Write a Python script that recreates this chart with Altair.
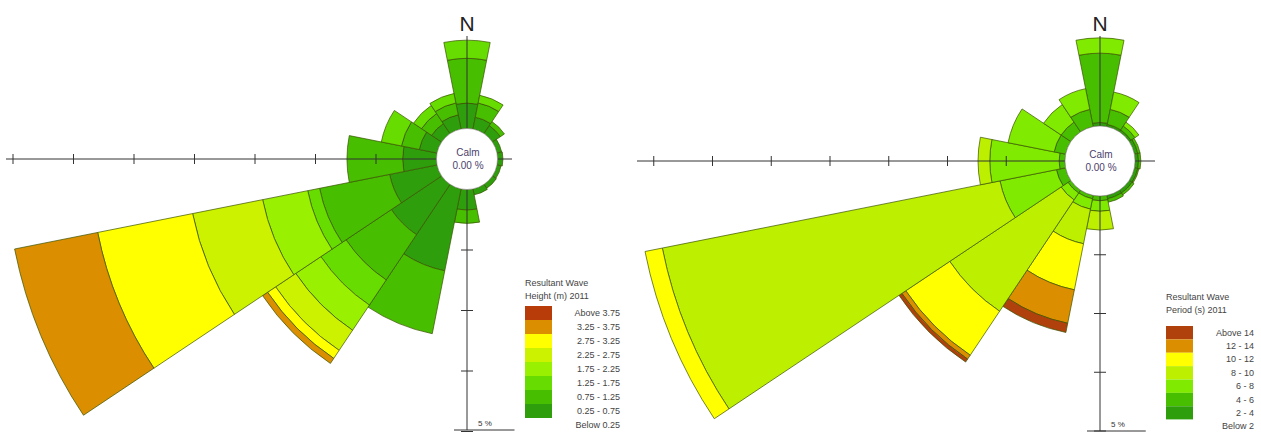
import math
import altair as alt
import pandas as pd

# ---------------- data ----------------
DIRECTIONS = ["N", "NNE", "NE", "ENE", "E", "ESE", "SE", "SSE",
              "S", "SSW", "SW", "WSW", "W", "WNW", "NW", "NNW"]
BEARINGS = [0, 22.5, 45, 67.5, 90, 112.5, 135, 157.5,
            180, 202.5, 225, 247.5, 270, 292.5, 315, 337.5]
SECTOR_WIDTH = 22.5

# Resultant wave height (m) 2011 -- % of time per band and direction
HEIGHT_BANDS = ["Below 0.25", "0.25 - 0.75", "0.75 - 1.25", "1.25 - 1.75", "1.75 - 2.25",
                "2.25 - 2.75", "2.75 - 3.25", "3.25 - 3.75", "Above 3.75"]
H_BELOW_025 = [0, 0, 0, 0, 0, 0, 0, 0, 0, 0, 0, 0, 0, 0, 0, 0]
H_025_075 = [2.1, 1.0, 0.8, 0.4, 0.45, 0.35, 0.4, 0.5, 1.7, 6.9, 5.0, 4.0, 2.8, 1.5, 1.0, 1.2]
H_075_125 = [3.7, 1.2, 0.4, 0, 0, 0, 0, 0, 1.1, 5.3, 4.5, 5.9, 4.6, 1.5, 1.0, 1.0]
H_125_175 = [1.5, 0.65, 0, 0, 0, 0, 0, 0, 0, 0, 2.5, 1.0, 0, 1.7, 0.8, 0.8]
H_175_225 = [0, 0, 0, 0, 0, 0, 0, 0, 0, 0, 2.5, 3.8, 0, 0, 0, 0]
H_225_275 = [0, 0, 0, 0, 0, 0, 0, 0, 0, 0, 2.0, 5.9, 0, 0, 0, 0]
H_275_325 = [0, 0, 0, 0, 0, 0, 0, 0, 0, 0, 0.8, 8.0, 0, 0, 0, 0]
H_325_375 = [0, 0, 0, 0, 0, 0, 0, 0, 0, 0, 0.5, 7.0, 0, 0, 0, 0]
H_ABOVE_375 = [0, 0, 0, 0, 0, 0, 0, 0, 0, 0, 0, 0, 0, 0, 0, 0]

# Resultant wave period (s) 2011 -- % of time per band and direction
PERIOD_BANDS = ["Below 2", "2 - 4", "4 - 6", "6 - 8", "8 - 10", "10 - 12", "12 - 14", "Above 14"]
P_BELOW_2 = [0, 0, 0, 0, 0, 0, 0, 0, 0, 0, 0, 0, 0, 0, 0, 0]
P_2_4 = [0.3, 0.2, 0.2, 0.3, 0.3, 0.3, 0.3, 0.3, 0, 0, 0, 0, 0, 0, 0, 0]
P_4_6 = [5.9, 1.3, 0.4, 0.2, 0.2, 0.1, 0.2, 0.3, 0.4, 0.3, 0.3, 0.8, 0.5, 1.0, 1.0, 1.5]
P_6_8 = [1.3, 1.5, 0.4, 0, 0, 0, 0, 0, 0.9, 0.9, 0.7, 4.9, 5.9, 4.0, 1.8, 1.8]
P_8_10 = [0, 0, 0, 0, 0, 0, 0, 0, 1.6, 3.0, 11.4, 29.3, 1.0, 0, 0, 0]
P_10_12 = [0, 0, 0, 0, 0, 0, 0, 0, 0, 4.0, 4.5, 1.5, 0, 0, 0, 0]
P_12_14 = [0, 0, 0, 0, 0, 0, 0, 0, 0, 2.9, 0.4, 0, 0, 0, 0, 0]
P_ABOVE_14 = [0, 0, 0, 0, 0, 0, 0, 0, 0, 0.8, 0.3, 0, 0, 0, 0, 0]

RING_TICKS_W = [5, 10, 15, 20, 25, 30, 35]
RING_TICKS_S = [5, 10, 15, 20]
CALM_LINES = ["Calm", "0.00 %"]
SCALE_BAR = 5

# ---------------- styles ----------------
HEIGHT_COLORS = ["#FFFFFF", "#2E9E0C", "#47BE00", "#66DC00", "#99F000",
                 "#CCF200", "#FFFF00", "#DB8E00", "#B83C0A"]
PERIOD_COLORS = ["#FFFFFF", "#2E9E0C", "#47BE00", "#80EA00", "#BDF000",
                 "#FFFF00", "#DB8E00", "#B0400C"]
FONT = "Liberation Sans"
OUTLINE = "#3A5200"


def segments(bands, values):
    rows = []
    for i, d in enumerate(DIRECTIONS):
        cum = 0.0
        t0 = (BEARINGS[i] - SECTOR_WIDTH / 2) % 360
        for name, vals in zip(bands, values):
            v = vals[i]
            if v > 0:
                rows.append(dict(direction=d, band=name, t0=t0, t1=t0 + SECTOR_WIDTH,
                                 r0=cum, r1=cum + v))
                cum += v
    return pd.DataFrame(rows)


def rose(df, bands, colors, cx, cy, calm, ppp, ax_left, ax_right, ax_top, ax_bottom,
         leg_x, leg_top, leg_bottom, label_x, title_lines, title_y):
    rmax = 40
    tscale = alt.Scale(domain=[0, 360], range=[0, 2 * math.pi])
    rscale = alt.Scale(type="linear", domain=[0, rmax], range=[calm, calm + rmax * ppp], zero=False)
    cscale = alt.Scale(domain=bands, range=colors)
    layers = []

    layers.append(alt.Chart(df).mark_arc(stroke=OUTLINE, strokeWidth=0.7).encode(
        theta=alt.Theta("t0:Q", scale=tscale, stack=False),
        theta2=alt.Theta2("t1:Q"),
        radius=alt.Radius("r0:Q", scale=rscale, stack=False),
        radius2=alt.Radius2("r1:Q"),
        color=alt.Color("band:N", scale=cscale, legend=None),
        x=alt.value(cx), y=alt.value(cy),
    ))

    one = pd.DataFrame({"a": [0]})
    # cross axes
    layers.append(alt.Chart(one).mark_rule(color="#333333", strokeWidth=1).encode(
        x=alt.value(ax_left), x2=alt.value(ax_right), y=alt.value(cy)))
    layers.append(alt.Chart(one).mark_rule(color="#333333", strokeWidth=1).encode(
        y=alt.value(ax_top), y2=alt.value(ax_bottom), x=alt.value(cx)))

    # ring ticks on the west and south arms
    tw = pd.DataFrame({"v": RING_TICKS_W})
    layers.append(alt.Chart(tw).mark_rule(color="#333333", strokeWidth=1).encode(
        x=alt.X("v:Q", scale=alt.Scale(domain=[0, rmax], range=[cx - calm, cx - calm - rmax * ppp]), axis=None),
        y=alt.value(cy - 5), y2=alt.value(cy + 5)))
    ts = pd.DataFrame({"v": RING_TICKS_S})
    layers.append(alt.Chart(ts).mark_rule(color="#333333", strokeWidth=1).encode(
        y=alt.Y("v:Q", scale=alt.Scale(domain=[0, rmax], range=[cy + calm, cy + calm + rmax * ppp]), axis=None),
        x=alt.value(cx - 6), x2=alt.value(cx + 6)))

    # calm circle
    layers.append(alt.Chart(one).mark_arc(radius=calm, theta=0, theta2=2 * math.pi, fill="white",
                                           stroke="#8a8a8a", strokeWidth=0.6).encode(
        x=alt.value(cx), y=alt.value(cy)))
    layers.append(alt.Chart(one).mark_text(fontSize=10, font=FONT, color="#4B416B").encode(
        x=alt.value(cx + 1), y=alt.value(cy - 6), text=alt.value(CALM_LINES[0])))
    layers.append(alt.Chart(one).mark_text(fontSize=10, font=FONT, color="#4B416B").encode(
        x=alt.value(cx + 1), y=alt.value(cy + 7), text=alt.value(CALM_LINES[1])))

    # north label
    layers.append(alt.Chart(one).mark_text(fontSize=21, font=FONT, color="#222222",
                                           baseline="alphabetic").encode(
        x=alt.value(cx), y=alt.value(31), text=alt.value("N")))

    # scale bar
    sb = pd.DataFrame({"a": [0], "b": [SCALE_BAR], "label": [f"{SCALE_BAR} %"]})
    sbscale = alt.Scale(domain=[0, rmax], range=[cx - 13, cx - 13 + rmax * ppp])
    layers.append(alt.Chart(sb).mark_rule(color="#333333", strokeWidth=1).encode(
        x=alt.X("a:Q", scale=sbscale, axis=None), x2="b:Q", y=alt.value(ax_bottom)))
    layers.append(alt.Chart(sb).mark_text(fontSize=8, font=FONT, color="#333333").encode(
        x=alt.value(cx + 18), y=alt.value(ax_bottom - 6), text="label:N"))

    # legend
    rev = list(reversed(bands))
    leg = pd.DataFrame({"band": rev})
    yscale = alt.Scale(domain=rev, range=[leg_top, leg_bottom], paddingInner=0, paddingOuter=0)
    layers.append(alt.Chart(leg).mark_rect().encode(
        y=alt.Y("band:N", scale=yscale, axis=None),
        x=alt.value(leg_x), x2=alt.value(leg_x + 27),
        color=alt.Color("band:N", scale=cscale, legend=None)))
    layers.append(alt.Chart(leg).mark_text(fontSize=9, font=FONT, color="#444444", align="right",
                                           baseline="middle").encode(
        y=alt.Y("band:N", scale=yscale, axis=None),
        x=alt.value(label_x), text="band:N"))
    for k, line in enumerate(title_lines):
        layers.append(alt.Chart(one).mark_text(fontSize=9, font=FONT, color="#444444", align="left",
                                               baseline="middle").encode(
            x=alt.value(leg_x), y=alt.value(title_y + 13 * k), text=alt.value(line)))
    return layers


left_df = segments(HEIGHT_BANDS, [H_BELOW_025, H_025_075, H_075_125, H_125_175, H_175_225,
                                  H_225_275, H_275_325, H_325_375, H_ABOVE_375])
right_df = segments(PERIOD_BANDS, [P_BELOW_2, P_2_4, P_4_6, P_6_8, P_8_10, P_10_12, P_12_14, P_ABOVE_14])

layers = []
layers += rose(left_df, HEIGHT_BANDS, HEIGHT_COLORS, cx=467, cy=159, calm=30.5, ppp=12.1,
               ax_left=6, ax_right=512, ax_top=36, ax_bottom=430,
               leg_x=525, leg_top=306, leg_bottom=432, label_x=620,
               title_lines=["Resultant Wave", "Height (m) 2011"], title_y=283)
layers += rose(right_df, PERIOD_BANDS, PERIOD_COLORS, cx=1100, cy=161, calm=35, ppp=11.75,
               ax_left=637, ax_right=1155, ax_top=36, ax_bottom=431,
               leg_x=1166, leg_top=326, leg_bottom=433, label_x=1254,
               title_lines=["Resultant Wave", "Period (s) 2011"], title_y=297)

chart = alt.layer(*layers).resolve_scale(
    x="independent", y="independent", color="independent", theta="independent", radius="independent"
).properties(
    width=1261, height=434, autosize=alt.AutoSizeParams(type="none"), padding=0
).configure_view(stroke=None)

chart.save("out.html", embed_options={"renderer": "svg", "actions": False})
